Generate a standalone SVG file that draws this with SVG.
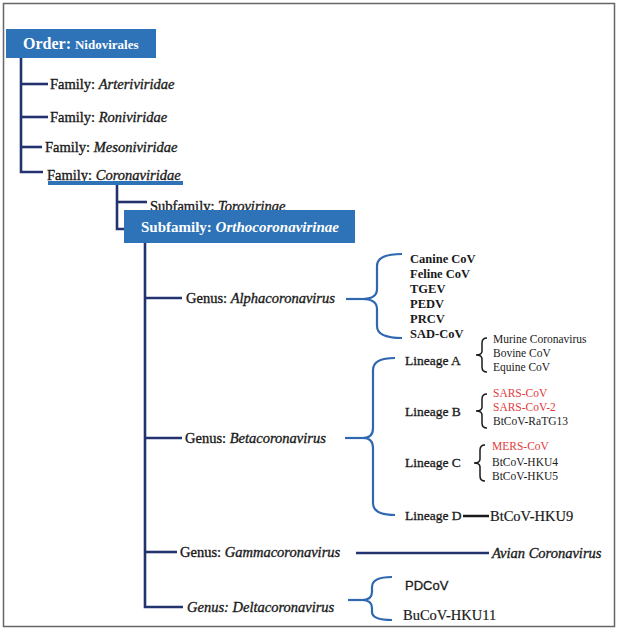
<svg xmlns="http://www.w3.org/2000/svg" width="618" height="637" viewBox="0 0 618 637">
<style>
.t{font-family:"Liberation Serif","Times New Roman",serif;fill:#1a1a1a;}
.lab{font-size:14.5px;stroke:#1a1a1a;stroke-width:0.35px;}
.i{font-style:italic;}
.w{fill:#ffffff;font-weight:bold;stroke:none;}
.box{fill:#2e72b8;}
.tree{fill:none;stroke:#22336f;stroke-width:2.6;}
.brace{fill:none;stroke:#2f68b0;stroke-width:2.2;}
.sb{fill:none;stroke:#1a1a1a;stroke-width:1.5;}
.alpha{font-size:12.5px;font-weight:bold;}
.lin{font-size:13.5px;stroke:#1a1a1a;stroke-width:0.3px;}
.sm{font-size:11.5px;}
.red{fill:#e23b3d;}
.big{font-size:14.5px;stroke:#1a1a1a;stroke-width:0.2px;}
</style>
<rect x="0" y="0" width="618" height="637" fill="#ffffff"/>
<rect x="3.5" y="3.5" width="611" height="623" fill="#ffffff" stroke="#666666" stroke-width="1.5"/>

<g id="connectors">
  <path class="tree" d="M21,58 V172 H43"/>
  <path class="tree" d="M21,84 H48"/>
  <path class="tree" d="M21,117 H48"/>
  <path class="tree" d="M21,147 H42"/>
  <path class="tree" d="M117,184 V229 H126"/>
  <path class="tree" d="M117,202 H147"/>
  <path class="tree" d="M145,243 V607 H183"/>
  <path class="tree" d="M145,298 H182"/>
  <path class="tree" d="M145,438 H182"/>
  <path class="tree" d="M145,552 H177"/>
  <path class="tree" d="M356,553 H489"/>
  <path class="brace" d="M346,299 H362"/>
  <path class="brace" d="M402,254 Q377,254 377,266 L377,289 Q377,299 362,299 Q377,299 377,309 L377,326 Q377,338 402,338"/>
  <path class="brace" d="M345,438 H363"/>
  <path class="brace" d="M395,358 Q373,358 373,370 L373,428 Q373,438 363,438 Q373,438 373,448 L373,503 Q373,515 395,515"/>
  <path class="brace" d="M348,600 H362"/>
  <path class="brace" d="M392,577 Q372,577 372,587 L372,592 Q372,600 362,600 Q372,600 372,608 L372,612 Q372,620 392,620"/>
  <path class="sb" d="M487,338 Q482,338 482,343 L482,351 Q482,355 476,355 Q482,355 482,359 L482,367 Q482,372 487,372"/>
  <path class="sb" d="M487,394 Q482,394 482,399 L482,407 Q482,411 476,411 Q482,411 482,415 L482,423 Q482,428 487,428"/>
  <path class="sb" d="M485,445 Q480,445 480,450 L480,459 Q480,463 474,463 Q480,463 480,467 L480,476 Q480,481 485,481"/>
  <path d="M463,516 H489" stroke="#1a1a1a" stroke-width="2.5"/>
</g>

<g id="order">
  <rect class="box" x="6" y="29" width="150" height="29"/>
  <text class="t w" x="23" y="49" font-size="16">Order: <tspan font-size="13">Nidovirales</tspan></text>
</g>

<g id="fam-arteriviridae"><text class="t lab" x="50" y="89">Family: <tspan class="i">Arteriviridae</tspan></text></g>
<g id="fam-roniviridae"><text class="t lab" x="50" y="122">Family: <tspan class="i">Roniviridae</tspan></text></g>
<g id="fam-mesoniviridae"><text class="t lab" x="45" y="152">Family: <tspan class="i">Mesoniviridae</tspan></text></g>
<g id="fam-coronaviridae">
  <text class="t lab" x="47" y="180">Family: <tspan class="i">Coronaviridae</tspan></text>
  <path d="M48,183 H183" stroke="#2e72b8" stroke-width="4"/>
</g>

<g id="sub-torovirinae"><text class="t lab" x="150" y="211">Subfamily: <tspan class="i">Torovirinae</tspan></text></g>
<g id="sub-ortho">
  <rect class="box" x="124" y="210" width="231" height="33"/>
  <text class="t w" x="141" y="232" font-size="15">Subfamily: <tspan class="i">Orthocoronavirinae</tspan></text>
</g>

<g id="genus-alpha"><text class="t lab" x="186" y="303">Genus: <tspan class="i">Alphacoronavirus</tspan></text></g>
<g id="alpha-members">
  <text class="t alpha" x="410" y="263">Canine CoV</text>
  <text class="t alpha" x="410" y="278">Feline CoV</text>
  <text class="t alpha" x="410" y="293">TGEV</text>
  <text class="t alpha" x="410" y="308">PEDV</text>
  <text class="t alpha" x="410" y="323">PRCV</text>
  <text class="t alpha" x="410" y="338">SAD-CoV</text>
</g>

<g id="genus-beta"><text class="t lab" x="185" y="443">Genus: <tspan class="i">Betacoronavirus</tspan></text></g>
<g id="lineage-a">
  <text class="t lin" x="405" y="365">Lineage A</text>
  <text class="t sm" x="493" y="343">Murine Coronavirus</text>
  <text class="t sm" x="493" y="357">Bovine CoV</text>
  <text class="t sm" x="493" y="371">Equine CoV</text>
</g>
<g id="lineage-b">
  <text class="t lin" x="405" y="416">Lineage B</text>
  <text class="t sm red" x="493" y="397">SARS-CoV</text>
  <text class="t sm red" x="493" y="411">SARS-CoV-2</text>
  <text class="t sm" x="493" y="425">BtCoV-RaTG13</text>
</g>
<g id="lineage-c">
  <text class="t lin" x="405" y="467">Lineage C</text>
  <text class="t sm red" x="492" y="450">MERS-CoV</text>
  <text class="t sm" x="492" y="466">BtCoV-HKU4</text>
  <text class="t sm" x="492" y="480">BtCoV-HKU5</text>
</g>
<g id="lineage-d">
  <text class="t lin" x="405" y="520">Lineage D</text>
  <text class="t big" x="490" y="521">BtCoV-HKU9</text>
</g>

<g id="genus-gamma">
  <text class="t lab" x="180" y="557">Genus: <tspan class="i">Gammacoronavirus</tspan></text>
  <text class="t lab i" x="492" y="558">Avian Coronavirus</text>
</g>

<g id="genus-delta">
  <text class="t lab i" x="187" y="612">Genus: Deltacoronavirus</text>
  <text x="405" y="590" font-family="'Liberation Sans',Arial,sans-serif" font-size="13" fill="#1a1a1a" stroke="#1a1a1a" stroke-width="0.3">PDCoV</text>
  <text class="t big" x="403" y="620">BuCoV-HKU11</text>
</g>
</svg>
